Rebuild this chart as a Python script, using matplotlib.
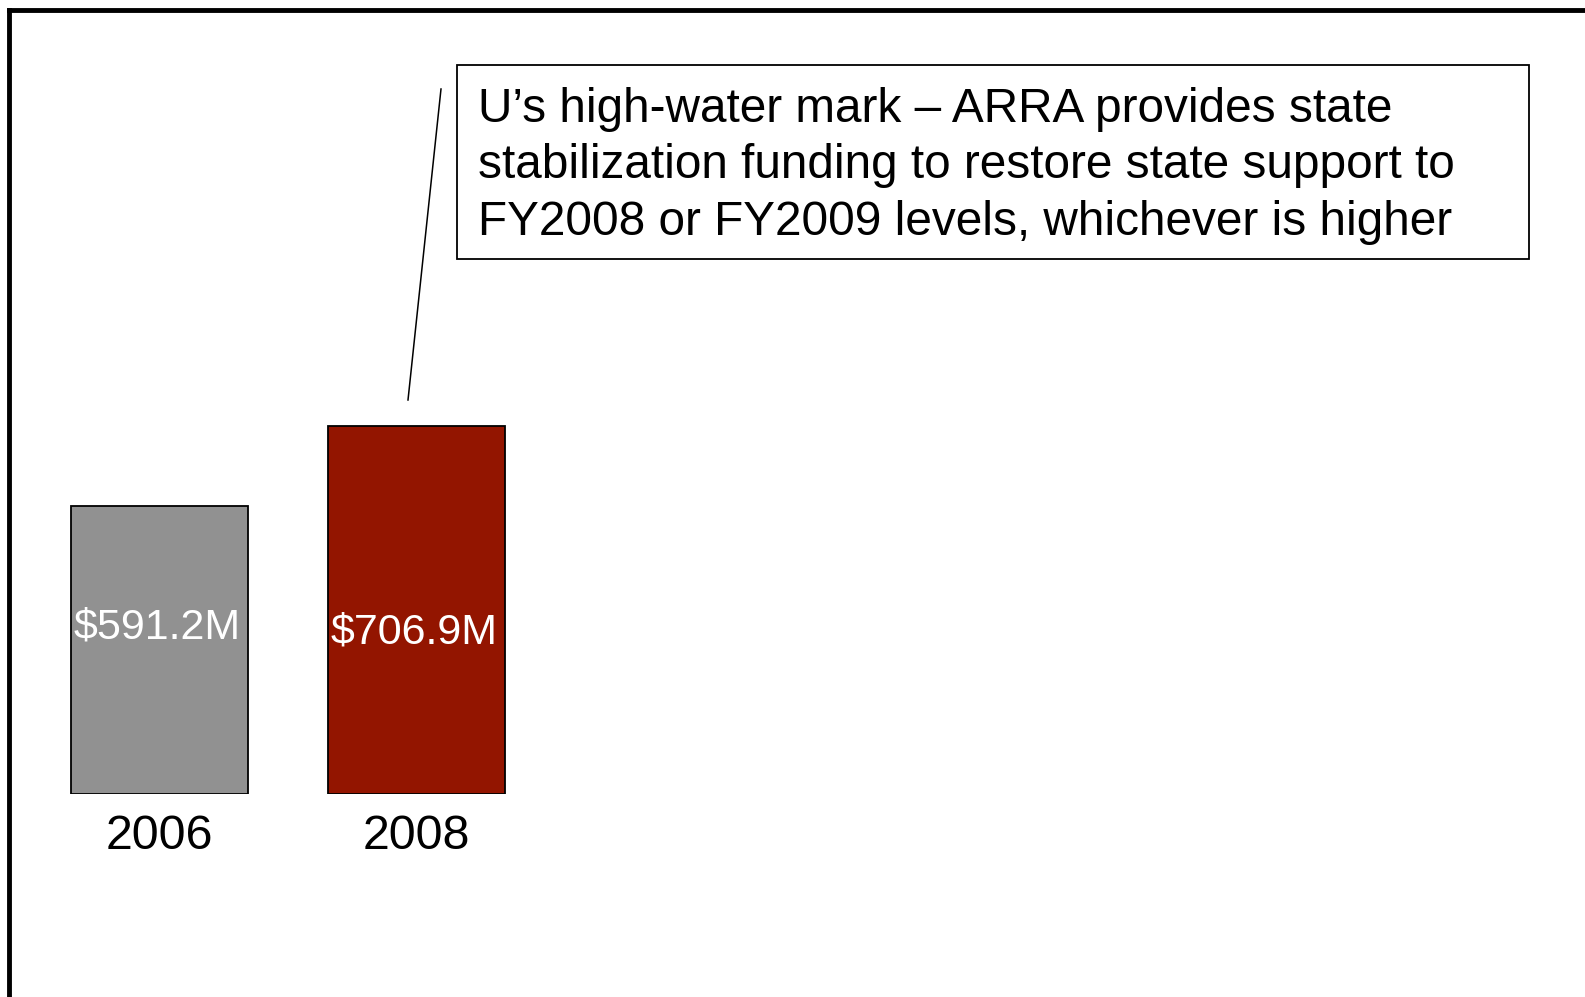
import matplotlib.pyplot as plt
from matplotlib.lines import Line2D
from matplotlib.patches import Rectangle

plt.rcParams['font.family'] = ['Liberation Sans', 'DejaVu Sans']

# Data
years = ['2006', '2008']
funding = [591.2, 706.9]  # state support ($M)
value_labels = ['$591.2M', '$706.9M']
bar_colors = ['#919191', '#931500']
note_lines = ['U\u2019s high-water mark \u2013 ARRA provides state',
              'stabilization funding to restore state support to',
              'FY2008 or FY2009 levels, whichever is higher']

W, H = 1585, 997
axis_floor = 174.7  # value axis does not start at zero
px_per_unit = 0.6914  # pixels per $M

fig = plt.figure(figsize=(W / 100, H / 100), dpi=100)

# bar axes: bottom edge sits on the bar base line
base_px = 794
ax = fig.add_axes([0, 1 - base_px / H, 1, base_px / H])
x = list(range(len(years)))
ax.bar(x, [v - axis_floor for v in funding], bottom=axis_floor, width=0.689,
       color=bar_colors, edgecolor='black', linewidth=1.3)
ax.set_xlim(-159.5 / 257, (W - 159.5) / 257)
ax.set_ylim(axis_floor, axis_floor + base_px / px_per_unit)
for xi, lab, ly in zip(x, value_labels, (416, 409)):
    ax.text(xi - 0.008, ly, lab, ha='center', va='center', color='white', fontsize=31)
ax.set_xticks(x)
ax.set_xticklabels(years, fontsize=34.8)
ax.tick_params(axis='x', length=0, pad=14.5)
ax.set_yticks([])
for s in ax.spines.values():
    s.set_visible(False)


def fx(px):
    return px / W


def fy(py):
    return 1 - py / H


# outer frame (top and left edges only visible)
fig.add_artist(Line2D([fx(8.5), 1], [fy(9.6), fy(9.6)], color='black', lw=3.5,
                      solid_capstyle='projecting'))
fig.add_artist(Line2D([fx(8.5), fx(8.5)], [fy(9.6), 0], color='black', lw=3.5,
                      solid_capstyle='projecting'))

# callout box and leader line
fig.add_artist(Rectangle((fx(457), fy(259)), fx(1529) - fx(457), fy(65) - fy(259),
                         facecolor='white', edgecolor='black', lw=1.3))
fig.add_artist(Line2D([fx(408), fx(441)], [fy(400), fy(89)], color='black', lw=1.1))
for i, line in enumerate(note_lines):
    fig.text(fx(478), fy(121.7 + i * 56.7), line, ha='left', va='baseline',
             fontsize=34.4, color='black')

fig.savefig('out.png', dpi=100)
